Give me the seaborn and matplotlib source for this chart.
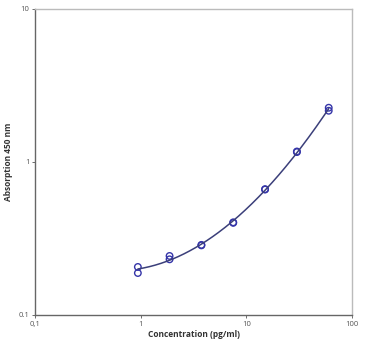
import numpy as np
import pandas as pd
import seaborn as sns
import matplotlib
matplotlib.use("Agg")
import matplotlib.pyplot as plt
from matplotlib.ticker import FixedLocator, FixedFormatter, NullLocator

conc = [0.94, 0.94, 1.875, 1.875, 3.75, 3.75, 7.5, 7.5, 15, 15, 30, 30, 60, 60]
absorb = [0.206, 0.188, 0.243, 0.231, 0.287, 0.285, 0.403, 0.400, 0.664, 0.660, 1.17, 1.16, 2.26, 2.16]

x_ticks = [0.1, 1, 10, 100]
x_labels = ["0,1", "1", "10", "100"]
y_ticks = [0.1, 1, 10]
y_labels = ["0.1", "1", "10"]

df = pd.DataFrame({"conc": conc, "abs": absorb})

# Fitted standard curve (cubic fit in log-log space of the measured points)
coef = np.polyfit(np.log10(df["conc"]), np.log10(df["abs"]), 3)
xs = np.logspace(np.log10(min(conc)), np.log10(max(conc)), 200)
fit = pd.DataFrame({"conc": xs, "abs": 10 ** np.polyval(coef, np.log10(xs))})

sns.set_theme(style="white")
plt.rcParams["font.family"] = ["Open Sans", "DejaVu Sans"]

fig = plt.figure(figsize=(3.68, 3.42), dpi=100)
ax = fig.add_axes([0.095, 0.079, 0.862, 0.895])

sns.lineplot(data=fit, x="conc", y="abs", ax=ax, color="#3b3f7a", linewidth=1.1)
sns.scatterplot(data=df, x="conc", y="abs", ax=ax, marker="o", s=22,
                facecolor="none", edgecolor="#3535a8", linewidth=1.0)

ax.set_xscale("log")
ax.set_yscale("log")
ax.set_xlim(0.1, 100)
ax.set_ylim(0.1, 10)
ax.xaxis.set_major_locator(FixedLocator(x_ticks))
ax.xaxis.set_major_formatter(FixedFormatter(x_labels))
ax.yaxis.set_major_locator(FixedLocator(y_ticks))
ax.yaxis.set_major_formatter(FixedFormatter(y_labels))
ax.xaxis.set_minor_locator(NullLocator())
ax.yaxis.set_minor_locator(NullLocator())

ax.tick_params(axis="both", which="major", labelsize=5.5, length=2.5, width=0.6,
               colors="#555555", direction="out", pad=1.5)
ax.tick_params(left=True, bottom=True)

ax.set_xlabel("Concentration (pg/ml)", fontsize=6, fontweight="bold", color="#333333", labelpad=1.5)
ax.set_ylabel("Absorption 450 nm", fontsize=6, fontweight="bold", color="#333333", labelpad=4)

for side in ["left", "bottom"]:
    ax.spines[side].set_color("#666666")
    ax.spines[side].set_linewidth(1.0)
for side in ["top", "right"]:
    ax.spines[side].set_color("#bbbbbb")
    ax.spines[side].set_linewidth(1.0)

fig.savefig("out.png", dpi=100)
